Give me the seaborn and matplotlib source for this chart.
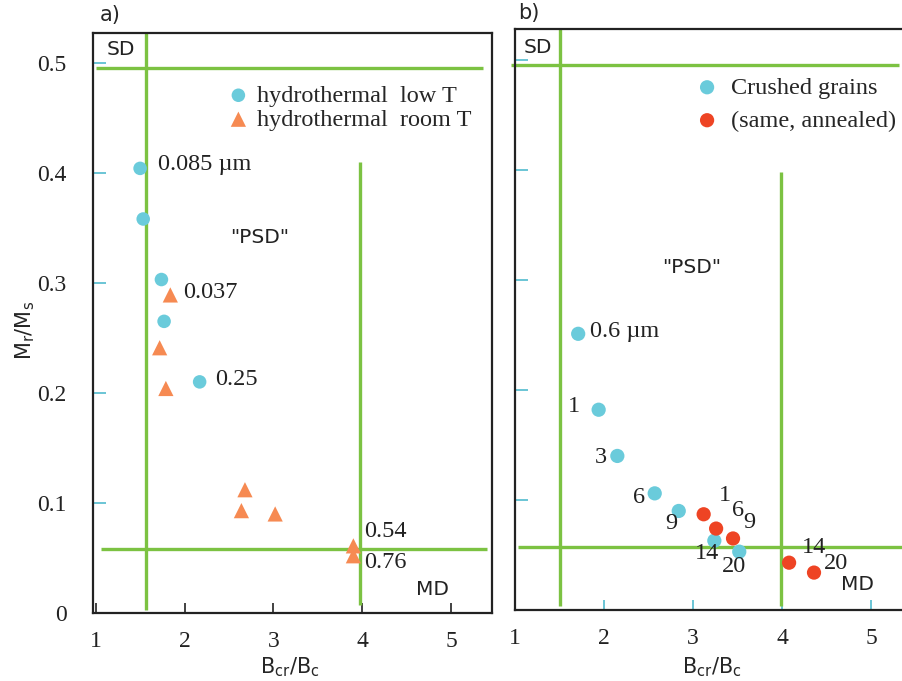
import matplotlib
matplotlib.use("Agg")
import matplotlib.pyplot as plt
import seaborn as sns
import pandas as pd

# ---- data: panel a) hydrothermal magnetite ----
low_T_bc = [1.50, 1.535, 1.74, 1.77, 2.17]
low_T_m = [0.404, 0.358, 0.303, 0.265, 0.210]
low_T_labels = ["0.085 \u00b5m", "", "", "", "0.25"]

room_T_bc = [1.84, 1.72, 1.79, 2.68, 2.64, 3.02, 3.90, 3.90]
room_T_m = [0.289, 0.241, 0.204, 0.112, 0.093, 0.090, 0.061, 0.052]
room_T_labels = ["0.037", "", "", "", "", "", "0.54", "0.76"]

# ---- data: panel b) crushed grains ----
crushed_bc = [1.71, 1.94, 2.15, 2.57, 2.84, 3.24, 3.52]
crushed_m = [0.251, 0.182, 0.140, 0.106, 0.090, 0.063, 0.053]
crushed_labels = ["0.6 \u00b5m", "1", "3", "6", "9", "14", "20"]

annealed_bc = [3.12, 3.26, 3.45, 4.08, 4.36]
annealed_m = [0.087, 0.074, 0.065, 0.043, 0.034]
annealed_labels = ["1", "6", "9", "14", "20"]

x_ticks = [1, 2, 3, 4, 5]
y_ticks = [0, 0.1, 0.2, 0.3, 0.4, 0.5]
y_tick_labels = ["0", "0.1", "0.2", "0.3", "0.4", "0.5"]

CYAN = "#6ACBDB"
ORANGE = "#F68A52"
RED = "#EE4424"
GREEN = "#7CC242"
TICK_CYAN = "#5FC0D2"
SERIF = "Liberation Serif"
SANS = "DejaVu Sans"

sns.set_theme(style="white")
plt.rcParams["mathtext.fontset"] = "dejavusans"
plt.rcParams["font.family"] = [SANS]

fig = plt.figure(figsize=(9.03, 6.81), dpi=100)
ax1 = fig.add_axes([93 / 903, 1 - 613 / 681, 399 / 903, 580 / 681])
ax2 = fig.add_axes([515 / 903, 1 - 610 / 681, 388 / 903, 581 / 681])

ax1.set_xlim(0.97, 5.46)
ax1.set_ylim(0, 0.527)
ax2.set_xlim(1.0, 5.36)
ax2.set_ylim(0, 0.528)

df_low = pd.DataFrame({"bc": low_T_bc, "m": low_T_m})
df_room = pd.DataFrame({"bc": room_T_bc, "m": room_T_m})
df_cr = pd.DataFrame({"bc": crushed_bc, "m": crushed_m})
df_an = pd.DataFrame({"bc": annealed_bc, "m": annealed_m})

green_kw = dict(color=GREEN, lw=2.4, solid_capstyle="butt", clip_on=False, zorder=1)

# domain boundaries, panel a
ax1.plot([1.0, 5.36], [0.495, 0.495], **green_kw)
ax1.plot([1.57, 1.57], [0.527, 0.003], **green_kw)
ax1.plot([3.97, 3.97], [0.41, 0.007], **green_kw)
ax1.plot([1.06, 5.40], [0.058, 0.058], **green_kw)

# domain boundaries, panel b
ax2.plot([0.955, 5.31], [0.495, 0.495], **green_kw)
ax2.plot([1.51, 1.51], [0.528, 0.004], **green_kw)
ax2.plot([3.99, 3.99], [0.398, 0.004], **green_kw)
ax2.plot([1.03, 5.37], [0.057, 0.057], **green_kw)

sns.scatterplot(data=df_low, x="bc", y="m", ax=ax1, marker="o", s=95,
                color=CYAN, edgecolor="none", label="hydrothermal  low T", zorder=3)
sns.scatterplot(data=df_room, x="bc", y="m", ax=ax1, marker="^", s=120,
                color=ORANGE, edgecolor="none", label="hydrothermal  room T", zorder=3)
sns.scatterplot(data=df_cr, x="bc", y="m", ax=ax2, marker="o", s=105,
                color=CYAN, edgecolor="none", label="Crushed grains", zorder=3)
sns.scatterplot(data=df_an, x="bc", y="m", ax=ax2, marker="o", s=105,
                color=RED, edgecolor="none", label="(same, annealed)", zorder=3)

TXT = 17.5
lab_kw = dict(textcoords="offset points", fontsize=TXT, family=SERIF, color="#222222")

# point annotations, panel a
offs_low = [(13, 3), None, None, None, (11.5, 2)]
for x, y, t, o in zip(low_T_bc, low_T_m, low_T_labels, offs_low):
    if t:
        ax1.annotate(t, (x, y), xytext=o, ha="left", va="center", **lab_kw)
offs_room = [(9, 2), None, None, None, None, None, (8, 10), (8, -5)]
for x, y, t, o in zip(room_T_bc, room_T_m, room_T_labels, offs_room):
    if t:
        ax1.annotate(t, (x, y), xytext=o, ha="left", va="center", **lab_kw)

# point annotations, panel b
offs_cr = [(8.6, 1.5), (-18, 2), (-11.5, -1), (-11, -3), (-5, -9), (-5, -9), (-3.6, -11)]
for i, (x, y, t, o) in enumerate(zip(crushed_bc, crushed_m, crushed_labels, offs_cr)):
    ax2.annotate(t, (x, y), xytext=o, ha="left" if i == 0 else "center",
                 va="center", **lab_kw)
offs_an = [(15, 13.7), (16, 13), (11.5, 11.5), (18, 11), (16, 6.5)]
for x, y, t, o in zip(annealed_bc, annealed_m, annealed_labels, offs_an):
    ax2.annotate(t, (x, y), xytext=o, ha="center", va="center", **lab_kw)

# domain names
dom_kw = dict(fontsize=14.5, family=SANS, color="#222222", ha="center", va="center")
ax1.text(1.28, 0.512, "SD", **dom_kw)
ax1.text(2.85, 0.341, '"PSD"', **dom_kw)
ax1.text(4.79, 0.021, "MD", **dom_kw)
ax2.text(1.26, 0.511, "SD", **dom_kw)
ax2.text(2.98, 0.311, '"PSD"', **dom_kw)
ax2.text(4.85, 0.023, "MD", **dom_kw)

# panel letters
fig.text(100 / 903, 1 - 15 / 681, "a)", fontsize=15, family=SANS, va="center", ha="left")
fig.text(518 / 903, 1 - 13 / 681, "b)", fontsize=15, family=SANS, va="center", ha="left")

# legends
leg_kw = dict(frameon=False, prop={"family": SERIF, "size": 17.5}, handlelength=0.8,
              borderpad=0, borderaxespad=0, loc="upper left")
ax1.legend(bbox_to_anchor=(0.34, 0.911), labelspacing=0.08, handletextpad=0.35, **leg_kw)
ax2.legend(bbox_to_anchor=(0.47, 0.918), labelspacing=0.45, handletextpad=0.6, **leg_kw)

# axes styling
for ax in (ax1, ax2):
    ax.set_xticks(x_ticks)
    ax.set_yticks(y_ticks)
    for s in ax.spines.values():
        s.set_color("#222222")
        s.set_linewidth(1.6)
    ax.set_xlabel(r"$\mathregular{B_{cr}/B_c}$", fontsize=15, family=SANS)
ax2.spines["right"].set_visible(False)

ax1.set_yticklabels(y_tick_labels, family=SERIF, fontsize=17)
ax1.set_xticklabels([str(v) for v in x_ticks], family=SERIF, fontsize=17)
ax2.set_xticklabels([str(v) for v in x_ticks], family=SERIF, fontsize=17)
ax2.set_yticklabels([])

ax1.tick_params(axis="y", direction="in", length=9, width=1.3, color=TICK_CYAN,
                pad=19, left=True, labelcolor="#222222")
ax1.tick_params(axis="x", direction="in", length=7, width=1.3, color="#333333",
                pad=13, bottom=True, labelcolor="#222222")
ax2.tick_params(axis="y", direction="in", length=9, width=1.3, color=TICK_CYAN,
                left=True)
ax2.tick_params(axis="x", direction="in", length=7, width=1.3, color=TICK_CYAN,
                pad=13, bottom=True, labelcolor="#222222")

ax1.set_ylabel(r"$\mathregular{M_r/M_s}$", fontsize=15, family=SANS)
ax1.yaxis.set_label_coords((37 - 93) / 399, (613 - 330) / 580)
ax2.set_ylabel("")
ax1.xaxis.set_label_coords((290 - 93) / 399, (613 - 655) / 580)
ax2.xaxis.set_label_coords((712 - 515) / 388, (610 - 655) / 581)

fig.savefig("out.png", dpi=100)
